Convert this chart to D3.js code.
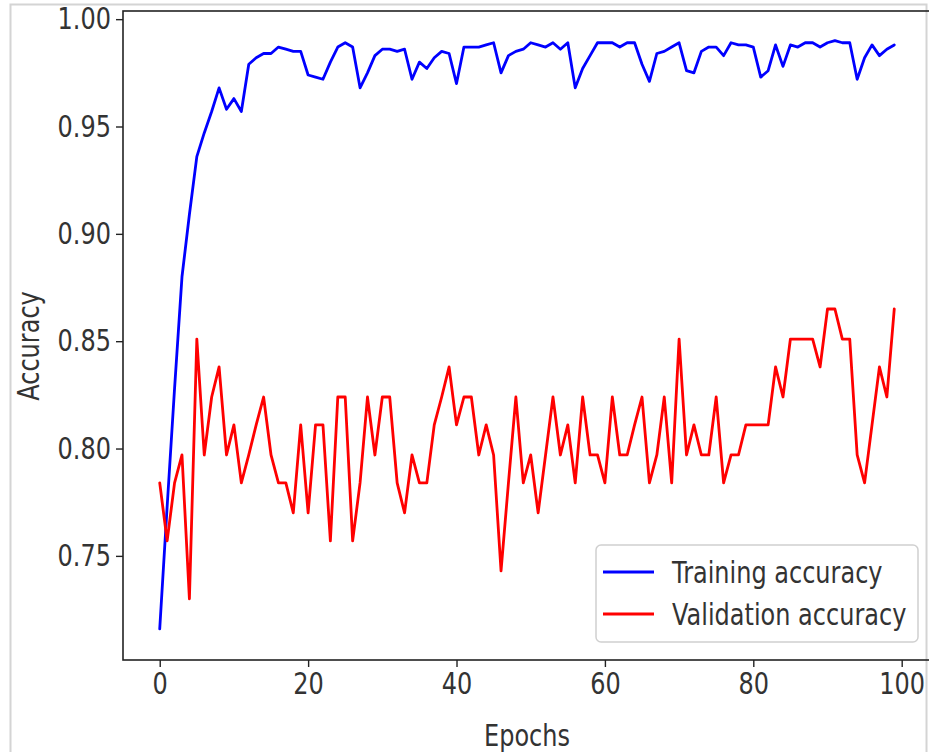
<!DOCTYPE html>
<html><head><meta charset="utf-8">
<script src="https://cdn.jsdelivr.net/npm/d3@7/dist/d3.min.js"></script>
<style>
html,body{margin:0;padding:0;background:#fff;}
svg{display:block;}
text{font-family:"DejaVu Sans",sans-serif;}
</style></head><body>
<svg id="chart" width="929" height="752"></svg>
<script>
// ---- data ----
const trainingAccuracy = [
  0.716, 0.773, 0.828, 0.880, 0.909, 0.936, 0.947, 0.957, 0.968, 0.958,
  0.963, 0.957, 0.979, 0.982, 0.984, 0.984, 0.987, 0.986, 0.985, 0.985,
  0.974, 0.973, 0.972, 0.980, 0.987, 0.989, 0.987, 0.968, 0.975, 0.983,
  0.986, 0.986, 0.985, 0.986, 0.972, 0.980, 0.977, 0.982, 0.985, 0.984,
  0.970, 0.987, 0.987, 0.987, 0.988, 0.989, 0.975, 0.983, 0.985, 0.986,
  0.989, 0.988, 0.987, 0.989, 0.986, 0.989, 0.968, 0.977, 0.983, 0.989,
  0.989, 0.989, 0.987, 0.989, 0.989, 0.979, 0.971, 0.984, 0.985, 0.987,
  0.989, 0.976, 0.975, 0.985, 0.987, 0.987, 0.983, 0.989, 0.988, 0.988,
  0.987, 0.973, 0.976, 0.988, 0.978, 0.988, 0.987, 0.989, 0.989, 0.987,
  0.989, 0.990, 0.989, 0.989, 0.972, 0.982, 0.988, 0.983, 0.986, 0.988
];
const validationAccuracy = [
  0.784, 0.757, 0.784, 0.797, 0.730, 0.851, 0.797, 0.824, 0.838, 0.797,
  0.811, 0.784, 0.797, 0.811, 0.824, 0.797, 0.784, 0.784, 0.770, 0.811,
  0.770, 0.811, 0.811, 0.757, 0.824, 0.824, 0.757, 0.784, 0.824, 0.797,
  0.824, 0.824, 0.784, 0.770, 0.797, 0.784, 0.784, 0.811, 0.824, 0.838,
  0.811, 0.824, 0.824, 0.797, 0.811, 0.797, 0.743, 0.784, 0.824, 0.784,
  0.797, 0.770, 0.797, 0.824, 0.797, 0.811, 0.784, 0.824, 0.797, 0.797,
  0.784, 0.824, 0.797, 0.797, 0.811, 0.824, 0.784, 0.797, 0.824, 0.784,
  0.851, 0.797, 0.811, 0.797, 0.797, 0.824, 0.784, 0.797, 0.797, 0.811,
  0.811, 0.811, 0.811, 0.838, 0.824, 0.851, 0.851, 0.851, 0.851, 0.838,
  0.865, 0.865, 0.851, 0.851, 0.797, 0.784, 0.811, 0.838, 0.824, 0.865
];
const xTickValues = [0, 20, 40, 60, 80, 100];
const yTickValues = [0.75, 0.80, 0.85, 0.90, 0.95, 1.00];
const seriesNames = ["Training accuracy", "Validation accuracy"];
const seriesColors = ["#0000ff", "#ff0000"];
const xLabel = "Epochs";
const yLabel = "Accuracy";

// ---- layout ----
const svg = d3.select("#chart");
const plot = {left: 123, top: 11, right: 931, bottom: 660};
const FS = 30, SX = 0.8;

const x = d3.scaleLinear().domain([-4.95, 103.95]).range([plot.left, plot.right]);
const y = d3.scaleLinear().domain([0.7015, 1.0038]).range([plot.bottom, plot.top]);

// screenshot frame
svg.append("rect").attr("x", 10.5).attr("y", 4.5).attr("width", 916).attr("height", 760)
  .attr("fill", "none").attr("stroke", "#d4d4d4").attr("stroke-width", 2);

const g = svg.append("g");
g.append("defs").append("clipPath").attr("id", "clip")
  .append("rect").attr("x", plot.left).attr("y", plot.top)
  .attr("width", plot.right - plot.left).attr("height", plot.bottom - plot.top);

// lines
const line = d3.line().x((d, i) => x(i)).y(d => y(d));
[trainingAccuracy, validationAccuracy].forEach((s, k) => {
  g.append("path").datum(s).attr("d", line).attr("fill", "none")
    .attr("stroke", seriesColors[k]).attr("stroke-width", 2.8)
    .attr("stroke-linejoin", "round").attr("stroke-linecap", "round")
    .attr("clip-path", "url(#clip)");
});

// spines
g.append("rect").attr("x", plot.left).attr("y", plot.top)
  .attr("width", plot.right - plot.left).attr("height", plot.bottom - plot.top)
  .attr("fill", "none").attr("stroke", "#222").attr("stroke-width", 1.6);

// axes
const xAxis = d3.axisBottom(x).tickValues(xTickValues).tickFormat(d3.format("d"))
  .tickSize(7).tickPadding(6);
const yAxis = d3.axisLeft(y).tickValues(yTickValues).tickFormat(d3.format(".2f"))
  .tickSize(7).tickPadding(5);

const gx = g.append("g").attr("transform", `translate(0,${plot.bottom})`).call(xAxis);
const gy = g.append("g").attr("transform", `translate(${plot.left},0)`).call(yAxis);
[gx, gy].forEach(a => {
  a.select(".domain").remove();
  a.selectAll(".tick line").attr("stroke", "#222").attr("stroke-width", 1.4);
  a.selectAll(".tick text").attr("font-size", FS).attr("fill", "#333")
    .attr("font-family", "DejaVu Sans, sans-serif")
    .attr("transform", `scale(${SX},1)`);
});
gy.selectAll(".tick text").attr("x", -12 / SX);

// axis labels
svg.append("text").attr("transform", `translate(${(plot.left + plot.right) / 2},746) scale(${SX},1)`)
  .attr("text-anchor", "middle").attr("font-size", FS).attr("fill", "#333").text(xLabel);
svg.append("text").attr("transform", `translate(39,346) rotate(-90) scale(${SX},1)`)
  .attr("text-anchor", "middle").attr("font-size", FS).attr("fill", "#333").text(yLabel);

// legend
const lg = svg.append("g");
lg.append("rect").attr("x", 596).attr("y", 545).attr("width", 322).attr("height", 97)
  .attr("rx", 5).attr("fill", "#fff").attr("fill-opacity", 0.85)
  .attr("stroke", "#d0d0d0").attr("stroke-width", 1.5);
seriesNames.forEach((name, k) => {
  const yy = 572 + k * 42;
  lg.append("line").attr("x1", 603).attr("x2", 654).attr("y1", yy).attr("y2", yy)
    .attr("stroke", seriesColors[k]).attr("stroke-width", 3);
  lg.append("text").attr("transform", `translate(672,${yy + 11}) scale(${SX},1)`)
    .attr("font-size", FS).attr("fill", "#333").text(name);
});
</script>
</body></html>
